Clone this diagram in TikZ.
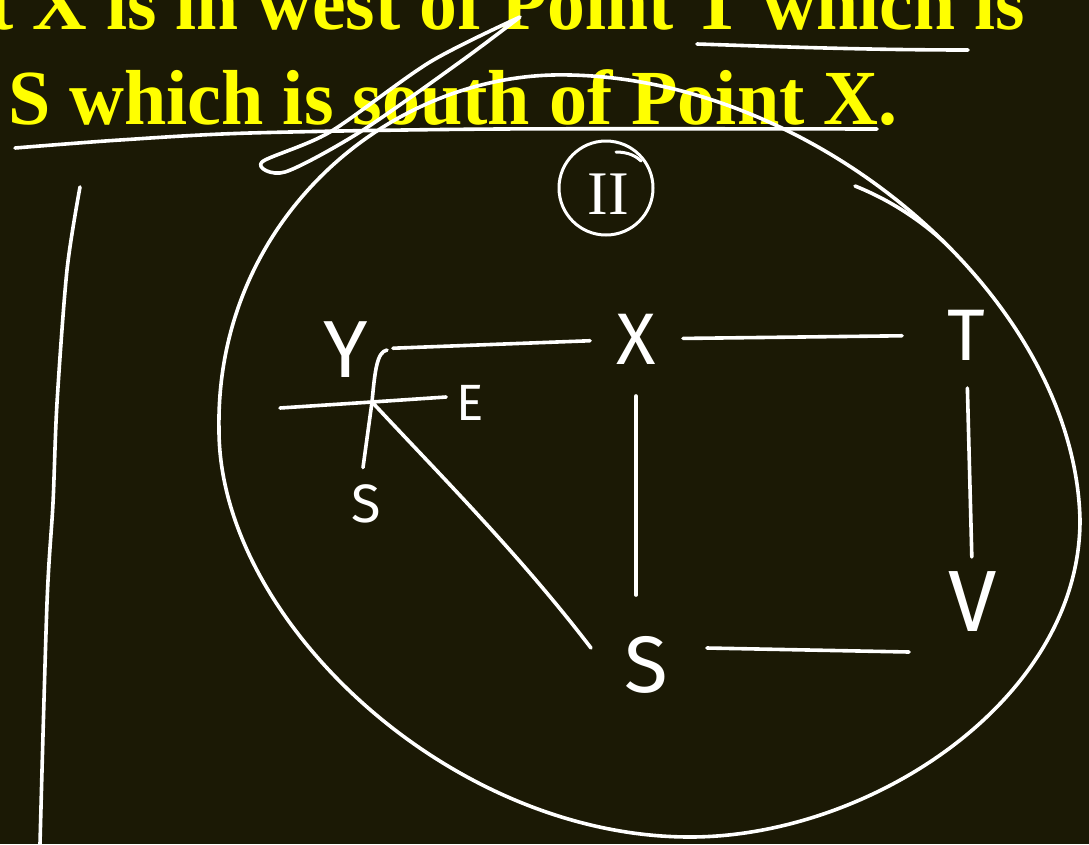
\documentclass[tikz,border=0pt]{standalone}
\usepackage{graphicx}
\usepackage{fontspec}
\setmainfont{Liberation Serif}
\newfontfamily\handfont{Fira Sans}
\usetikzlibrary{calc}
\definecolor{board}{HTML}{1B1905}
\definecolor{chalk}{HTML}{FFFFFF}
\definecolor{hilite}{HTML}{FFFF00}

\begin{document}
\begin{tikzpicture}[
  x=1pt, y=-1pt,
  hand/.style={draw=chalk, line width=3.6pt, line cap=round, line join=round},
  letter/.style={text=chalk, inner sep=0pt, font=\handfont\fontsize{#1}{#1}\selectfont},
  numeral/.style={text=chalk, inner sep=0pt, font=\fontsize{62}{62}\selectfont},
  title/.style={text=hilite, inner sep=0pt, font=\bfseries\fontsize{78}{80}\selectfont},
]
% --- board ---
\useasboundingbox (0,0) rectangle (1089,844);
\clip (0,0) rectangle (1089,844);
\fill[board] (0,0) rectangle (1089,844);
% --- question text ---
\node[title, anchor=base east] (line1) at (1025,29) {\scalebox{0.97}[1]{t X is in west of Point T which is}};
\node[title, anchor=base west] (line2) at (8,124) {\scalebox{0.975}[1]{S which is south of Point X.}};
% underlines and scribble
\draw[hand] (697,44) .. controls (760,46) and (860,50) .. (968,50);
\draw[hand] plot[smooth] coordinates {(15,148) (120,140) (250,133) (500,129) (877,129)};
\draw[hand] plot[smooth] coordinates {(520,17) (430,62) (330,132) (262,162) (285,172) (360,132) (460,62) (520,17)};
% --- margin line ---
\draw[hand] plot[smooth] coordinates {(80,187) (67,270) (57,403) (53,503) (47,603) (40,844)};
% --- case II ---
\node[numeral] (two) at (608,194) {II};
\draw[hand, line width=3pt] ($(two.center)+(-2,-6)$) circle[radius=47];
\draw[hand, line width=3pt] (616,152) .. controls (628,152) and (636,156) .. (641,161);
% --- points ---
\node[letter=81] (y)  at (346,350) {Y};
\node[letter=73] (x)  at (636,339) {X};
\node[letter=73] (t)  at (966,335) {T};
\node[letter=87] (v)  at (973,602) {V};
\node[letter=80] (s)  at (646,665) {S};
\node[letter=54] (ss) at (366,504) {S};
\node[letter=51] (e)  at (470,403) {E};
\coordinate (cross) at (372,402);
% --- directions at Y ---
\draw[hand] (387,350) .. controls (377,352) and (375,370) .. (cross) -- ($(ss.north)+(-3,-17)$);
\draw[hand] (280,408) -- (cross) -- ($(e.west)+(-10,-6)$);
% --- paths ---
\draw[hand, shorten <=47pt, shorten >=46pt] (y.center) -- (x.center);
\draw[hand, shorten <=47pt, shorten >=64pt] (x.center) -- (t.center);
\draw[hand, shorten <=53pt, shorten >=45pt] (t.center) -- (v.center);
\draw[hand, shorten <=57pt, shorten >=70pt] (x.center) -- (x.center |- s.center);
\draw[hand] ($(s.center)+(61,-17)$) -- ($(v.center)+(-64,50)$);
\draw[hand] (cross) .. controls (440,475) and (520,555) .. ($(s.west)+(-33,-17)$);
% --- ring ---
\draw[hand] (570,75) .. controls (820,80) and (1075,300) .. (1080,520)
  .. controls (1080,700) and (870,837) .. (690,837)
  .. controls (450,837) and (219,620) .. (219,430)
  .. controls (215,220) and (390,70) .. cycle;
\draw[hand] (855,186) .. controls (890,200) and (920,220) .. (944,242);
\end{tikzpicture}
\end{document}
